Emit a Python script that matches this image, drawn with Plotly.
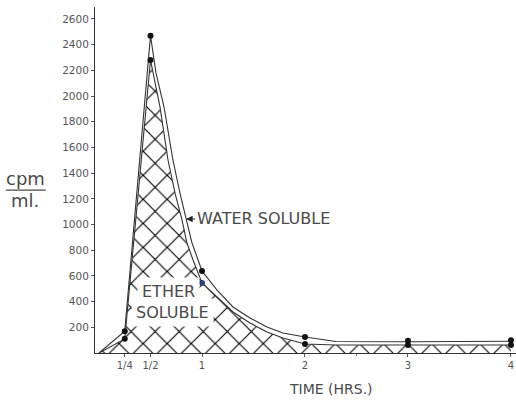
import plotly.graph_objects as go

# ---- data ----
# smooth curves as drawn (time in hours, cpm/ml)
outer_t = [0, 0.25, 0.5, 0.553, 0.631, 0.718, 0.786, 0.845, 0.903, 1.0, 1.146, 1.301, 1.466, 1.631, 1.786, 2.0, 2.3, 3.0, 4.0]
outer_v = [0, 170, 2470, 2180, 1915, 1502, 1245, 1043, 856, 638, 490, 358, 272, 202, 156, 125, 90, 88, 92]
inner_t = [0, 0.25, 0.5, 0.592, 0.670, 0.738, 0.806, 0.854, 0.913, 1.0, 1.146, 1.301, 1.466, 1.631, 1.786, 2.0, 2.3, 3.0, 4.0]
inner_v = [0, 110, 2280, 1915, 1502, 1245, 1035, 856, 724, 545, 436, 319, 234, 163, 117, 70, 62, 60, 62]

# measured sample points (dots)
pt_t = [0.25, 0.5, 1, 2, 3, 4]
total_pts = [170, 2470, 638, 125, 95, 100]
ether_pts = [110, 2280, 545, 70, 62, 62]

x_tickvals = [0.25, 0.5, 1, 2, 3, 4]
x_ticktext = ["1/4", "1/2", "1", "2", "3", "4"]
y_tickvals = [200, 400, 600, 800, 1000, 1200, 1400, 1600, 1800, 2000, 2200, 2400, 2600]

LINE = "#333333"
TXT = "#4a4a4a"
FONT = "DejaVu Sans"

fig = go.Figure()

# ether soluble (hatched area)
fig.add_trace(go.Scatter(
    x=inner_t, y=inner_v, mode="lines", fill="tozeroy",
    fillcolor="white",
    fillpattern=dict(shape="x", size=17, solidity=0.13, fgcolor="#000000",
                     fgopacity=1, bgcolor="white", fillmode="replace"),
    line=dict(color=LINE, width=1.1), hoverinfo="skip", showlegend=False))

# total curve
fig.add_trace(go.Scatter(
    x=outer_t, y=outer_v, mode="lines",
    line=dict(color=LINE, width=1.1), hoverinfo="skip", showlegend=False))

# dots
fig.add_trace(go.Scatter(
    x=pt_t, y=total_pts, mode="markers",
    marker=dict(color="#111111", size=6), cliponaxis=False, showlegend=False))
ether_colors = ["#111111", "#111111", "#2c3f7a", "#111111", "#111111", "#111111"]
fig.add_trace(go.Scatter(
    x=pt_t, y=ether_pts, mode="markers",
    marker=dict(color=ether_colors, size=6), cliponaxis=False, showlegend=False))

annotations = [
    dict(x=0.845, y=1043, xref="x", yref="y", text="WATER SOLUBLE",
         showarrow=True, ax=9, ay=0, xanchor="left", arrowhead=2, arrowsize=1.1,
         arrowwidth=1.2, arrowcolor="#222", font=dict(family=FONT, size=16, color=TXT)),
    dict(x=0.67, y=475, xref="x", yref="y", text="ETHER", showarrow=False,
         xanchor="center", yanchor="middle", bgcolor="white", borderpad=4,
         font=dict(family=FONT, size=16, color=TXT)),
    dict(x=0.709, y=319, xref="x", yref="y", text="SOLUBLE", showarrow=False,
         xanchor="center", yanchor="middle", bgcolor="white", borderpad=4,
         font=dict(family=FONT, size=16, color=TXT)),
    dict(x=2.25, y=-0.104, xref="x", yref="paper", text="TIME (HRS.)", showarrow=False,
         xanchor="center", yanchor="middle",
         font=dict(family=FONT, size=14, color=TXT)),
    dict(x=-0.166, y=0.503, xref="paper", yref="paper", text="cpm", showarrow=False,
         xanchor="center", yanchor="middle",
         font=dict(family=FONT, size=18, color=TXT)),
    dict(x=-0.166, y=0.441, xref="paper", yref="paper", text="ml.", showarrow=False,
         xanchor="center", yanchor="middle",
         font=dict(family=FONT, size=18, color=TXT)),
]

fig.add_shape(type="line", xref="paper", yref="paper",
              x0=-0.212, x1=-0.117, y0=0.471, y1=0.471,
              line=dict(color=TXT, width=1.2))

fig.update_layout(
    width=516, height=407, autosize=False,
    margin=dict(l=95, r=0, t=7, b=54),
    paper_bgcolor="white", plot_bgcolor="white",
    annotations=annotations, showlegend=False,
    xaxis=dict(range=[-0.039, 4.049], showgrid=False, zeroline=False,
               showline=True, linecolor=LINE, linewidth=1,
               tickmode="array", tickvals=x_tickvals, ticktext=x_ticktext,
               ticks="outside", ticklen=3, tickcolor="#555",
               tickfont=dict(family=FONT, size=10, color="#555"),
               minor=dict(tickmode="array", tickvals=[2.5], ticks="outside",
                          ticklen=2, tickcolor="#777")),
    yaxis=dict(range=[0, 2693], showgrid=False, zeroline=False,
               showline=True, linecolor=LINE, linewidth=1,
               tickmode="array", tickvals=y_tickvals,
               ticks="outside", ticklen=3, tickcolor="#555",
               tickfont=dict(family=FONT, size=10.5, color="#555")),
)

fig.write_html("out.html")
